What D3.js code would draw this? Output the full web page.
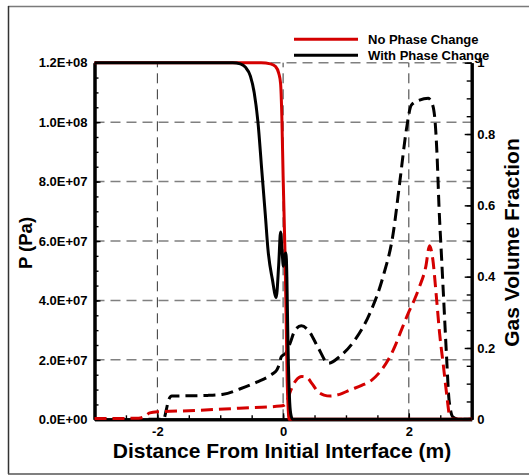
<!DOCTYPE html>
<html>
<head>
<meta charset="utf-8">
<script src="https://cdn.jsdelivr.net/npm/d3@7"></script>
<style>
  html, body { margin: 0; padding: 0; background: #fff; }
  svg { display: block; }
  text { font-family: "Liberation Sans", Arial, Helvetica, sans-serif; font-weight: bold; fill: #000; }
</style>
</head>
<body>
<svg id="chart" width="529" height="475"></svg>
<script>
// Distance from the initial interface (m) and matching values for each profile.
// Pressure (Pa), no phase change
const pNoPC = [
  [-3, 1.2e8], [-0.35, 1.2e8], [-0.2, 1.196e8], [-0.12, 1.187e8], [-0.07, 1.165e8],
  [-0.04, 1.13e8], [-0.02, 1.02e8], [0.0, 8.2e7], [0.03, 5.6e7], [0.05, 3.2e7],
  [0.065, 1.3e7], [0.08, 4e6], [0.095, 0], [3, 0]
];
// Pressure (Pa), with phase change
const pWithPC = [
  [-3, 1.2e8], [-0.8, 1.2e8], [-0.68, 1.196e8], [-0.6, 1.185e8], [-0.52, 1.155e8],
  [-0.46, 1.1e8], [-0.4, 1.0e8], [-0.34, 8.4e7], [-0.28, 6.8e7], [-0.24, 5.7e7],
  [-0.17, 4.7e7], [-0.11, 4.1e7], [-0.07, 5.2e7], [-0.04, 6.3e7], [-0.015, 5.6e7],
  [0.005, 5.15e7], [0.025, 5.5e7], [0.045, 5.6e7], [0.06, 4.8e7], [0.07, 3.5e7],
  [0.08, 2.3e7], [0.1, 8e6], [0.12, 2e6], [0.15, 0], [3, 0]
];
// Gas volume fraction, no phase change
const gvfNoPC = [
  [-3, 0.002], [-2.3, 0.003], [-2.2, 0.008], [-2.12, 0.018], [-2.0, 0.021],
  [-1.5, 0.024], [-0.7, 0.031], [-0.05, 0.037], [0.02, 0.04], [0.06, 0.05],
  [0.12, 0.08], [0.2, 0.108], [0.3, 0.12], [0.38, 0.117], [0.46, 0.1],
  [0.55, 0.078], [0.65, 0.068], [0.75, 0.065], [0.9, 0.07], [1.06, 0.082],
  [1.25, 0.095], [1.41, 0.11], [1.55, 0.135], [1.67, 0.166], [1.78, 0.205],
  [1.86, 0.241], [1.99, 0.297], [2.1, 0.34], [2.17, 0.372], [2.27, 0.428],
  [2.33, 0.487], [2.38, 0.45], [2.44, 0.34], [2.49, 0.24], [2.55, 0.15],
  [2.6, 0.073], [2.65, 0.01], [2.7, 0], [3, 0]
];
// Gas volume fraction, with phase change
const gvfWithPC = [
  [-3, 0], [-1.9, 0], [-1.86, 0.025], [-1.82, 0.055], [-1.77, 0.065],
  [-1.5, 0.066], [-1.2, 0.067], [-0.95, 0.07], [-0.69, 0.085], [-0.42, 0.104],
  [-0.18, 0.126], [-0.1, 0.138], [-0.06, 0.155], [-0.03, 0.175], [0.0, 0.18],
  [0.04, 0.185], [0.11, 0.213], [0.19, 0.25], [0.29, 0.262], [0.42, 0.245],
  [0.56, 0.2], [0.72, 0.157], [0.9, 0.176], [1.14, 0.222], [1.38, 0.297],
  [1.59, 0.4], [1.75, 0.52], [1.86, 0.671], [1.96, 0.811], [2.04, 0.881],
  [2.17, 0.895], [2.31, 0.9], [2.36, 0.89], [2.41, 0.85], [2.45, 0.736],
  [2.48, 0.596], [2.52, 0.456], [2.56, 0.316], [2.6, 0.176], [2.64, 0.054],
  [2.7, 0.007], [2.8, 0], [3, 0]
];

// Axis ticks and labels
const xTicks = [-2, 0, 2];
const xTickLabels = ["-2", "0", "2"];
const xMinorTicks = d3.range(-3, 3.001, 0.5);
const pTicks = [0, 2e7, 4e7, 6e7, 8e7, 1e8, 1.2e8];
const pTickLabels = ["0.0E+00", "2.0E+07", "4.0E+07", "6.0E+07", "8.0E+07", "1.0E+08", "1.2E+08"];
const pMinorTicks = d3.range(0, 1.2e8 + 1, 5e6);
const fTicks = [0, 0.2, 0.4, 0.6, 0.8, 1];
const fTickLabels = ["0", "0.2", "0.4", "0.6", "0.8", "1"];
const fMinorTicks = d3.range(0, 1.0001, 0.05);

const legendItems = [
  { label: "No Phase Change", color: "#d40000" },
  { label: "With Phase Change", color: "#000000" }
];

const svg = d3.select("#chart");
const red = "#d40000";

// Outer frame
svg.append("line").attr("x1", 8).attr("x2", 529).attr("y1", 6.5).attr("y2", 6.5)
  .attr("stroke", "#7a7a7a").attr("stroke-width", 1.5);
svg.append("line").attr("x1", 8.5).attr("x2", 8.5).attr("y1", 6).attr("y2", 474)
  .attr("stroke", "#333").attr("stroke-width", 1.5);
svg.append("line").attr("x1", 8).attr("x2", 529).attr("y1", 474).attr("y2", 474)
  .attr("stroke", "#555").attr("stroke-width", 1.5);

const L = 94.5, R = 471.7, T = 62.7, B = 419.3;
const x = d3.scaleLinear().domain([-3, 3]).range([L, R]);
const yP = d3.scaleLinear().domain([0, 1.2e8]).range([B, T]);
const yF = d3.scaleLinear().domain([0, 1]).range([B, T]);

// Grid
const grid = svg.append("g");
grid.selectAll("line.h").data(pTicks.filter(d => d > 0)).join("line")
  .attr("x1", L).attr("x2", R).attr("y1", d => yP(d)).attr("y2", d => yP(d))
  .attr("stroke", "#808080").attr("stroke-width", 1.5).attr("stroke-dasharray", "10,6");
grid.selectAll("line.v").data(xTicks).join("line")
  .attr("x1", d => x(d)).attr("x2", d => x(d)).attr("y1", B).attr("y2", T)
  .attr("stroke", "#333").attr("stroke-width", 1).attr("stroke-dasharray", "10,6");

// Axes (ticks point inward)
function styleAxis(g) {
  g.select(".domain").attr("stroke", "#000").attr("stroke-width", 3);
  g.selectAll(".tick line").attr("stroke", "#000").attr("stroke-width", 1.4);
  g.selectAll("text").attr("font-size", 13).attr("font-family", null);
}
svg.append("g").attr("transform", `translate(0,${B})`)
  .call(d3.axisBottom(x).tickValues(xMinorTicks).tickSizeInner(-4).tickSizeOuter(0).tickFormat(""))
  .call(styleAxis);
svg.append("g").attr("transform", `translate(0,${B})`)
  .call(d3.axisBottom(x).tickValues(xTicks).tickSizeInner(-6).tickSizeOuter(0).tickPadding(7)
    .tickFormat((d, i) => xTickLabels[i]))
  .call(styleAxis);
svg.append("g").attr("transform", `translate(${L},0)`)
  .call(d3.axisLeft(yP).tickValues(pMinorTicks).tickSizeInner(-4).tickSizeOuter(0).tickFormat(""))
  .call(styleAxis);
svg.append("g").attr("transform", `translate(${L},0)`)
  .call(d3.axisLeft(yP).tickValues(pTicks).tickSizeInner(-6).tickSizeOuter(0).tickPadding(7)
    .tickFormat((d, i) => pTickLabels[i]))
  .call(styleAxis);
svg.append("g").attr("transform", `translate(${R},0)`)
  .call(d3.axisRight(yF).tickValues(fMinorTicks).tickSizeInner(-5).tickSizeOuter(0).tickFormat(""))
  .call(styleAxis);
svg.append("g").attr("transform", `translate(${R},0)`)
  .call(d3.axisRight(yF).tickValues(fTicks).tickSizeInner(-7).tickSizeOuter(0).tickPadding(5.5)
    .tickFormat((d, i) => fTickLabels[i]))
  .call(styleAxis);

// Curves
const lineP = d3.line().x(d => x(d[0])).y(d => yP(d[1])).curve(d3.curveMonotoneX);
const lineF = d3.line().x(d => x(d[0])).y(d => yF(d[1])).curve(d3.curveMonotoneX);
svg.append("path").datum(gvfWithPC).attr("d", lineF)
  .attr("fill", "none").attr("stroke", "#000").attr("stroke-width", 3).attr("stroke-dasharray", "12,6");
svg.append("path").datum(gvfNoPC).attr("d", lineF)
  .attr("fill", "none").attr("stroke", red).attr("stroke-width", 3).attr("stroke-dasharray", "12,6");
svg.append("path").datum(pNoPC).attr("d", lineP)
  .attr("fill", "none").attr("stroke", red).attr("stroke-width", 3);
svg.append("path").datum(pWithPC).attr("d", lineP)
  .attr("fill", "none").attr("stroke", "#000").attr("stroke-width", 3);

// Legend
const legend = svg.append("g");
legendItems.forEach((it, i) => {
  const y0 = 39.3 + i * 16;
  legend.append("line").attr("x1", 294).attr("x2", 358).attr("y1", y0).attr("y2", y0)
    .attr("stroke", it.color).attr("stroke-width", 3);
  legend.append("text").attr("x", 368).attr("y", y0 + 4.7).attr("font-size", 13).text(it.label);
});

// Axis titles
svg.append("text").attr("x", 282).attr("y", 458).attr("text-anchor", "middle")
  .attr("font-size", 21).text("Distance From Initial Interface (m)");
svg.append("text").attr("transform", "translate(31.5,243) rotate(-90)").attr("text-anchor", "middle")
  .attr("font-size", 18.5).text("P (Pa)");
svg.append("text").attr("transform", "translate(518.5,242.5) rotate(-90)").attr("text-anchor", "middle")
  .attr("font-size", 21).text("Gas Volume Fraction");
</script>
</body>
</html>
